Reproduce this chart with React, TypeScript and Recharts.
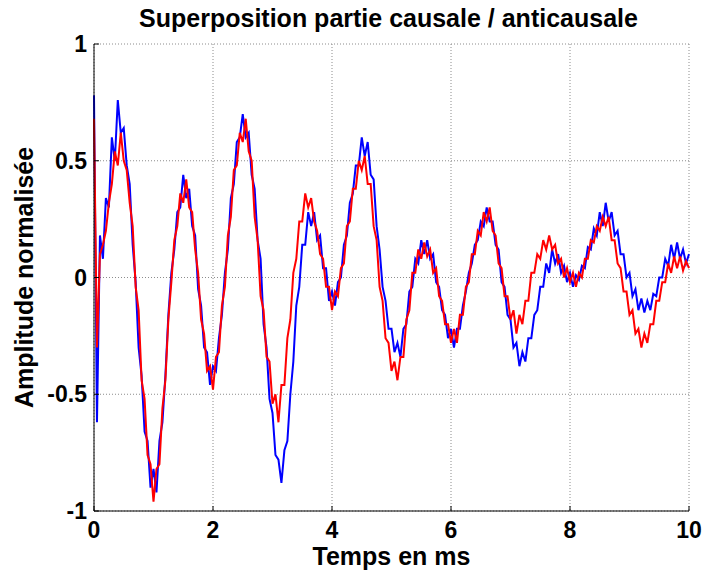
import React from "react";
import { LineChart, Line, XAxis, YAxis, CartesianGrid, Label } from "recharts";

// sampling step of both signals, in ms
const STEP = 0.05;

const xTicks = [0, 2, 4, 6, 8, 10];
const yTicks = [-1, -0.5, 0, 0.5, 1];

// causal part (blue), one row per ms
const causale = [
  0.78, -0.62, 0.18, 0.08, 0.34, 0.3, 0.6, 0.5, 0.76, 0.62, 0.64, 0.48, 0.4, 0.14, -0.02, -0.3, -0.42, -0.66, -0.7, -0.9,
  -0.82, -0.92, -0.7, -0.62, -0.42, -0.16, 0.02, 0.12, 0.28, 0.3, 0.44, 0.34, 0.38, 0.22, 0.18, -0.05, -0.12, -0.3, -0.32, -0.46,
  -0.38, -0.4, -0.26, -0.16, 0.02, 0.12, 0.34, 0.4, 0.58, 0.6, 0.7, 0.6, 0.62, 0.44, 0.38, 0.16, 0.08, -0.2, -0.3, -0.52,
  -0.58, -0.76, -0.78, -0.88, -0.74, -0.7, -0.5, -0.36, -0.12, -0.04, 0.14, 0.14, 0.28, 0.22, 0.28, 0.16, 0.18, 0.04, 0.04, -0.1,
  -0.06, -0.12, -0.02, 0.0, 0.14, 0.18, 0.32, 0.36, 0.48, 0.48, 0.6, 0.52, 0.58, 0.44, 0.42, 0.22, 0.12, -0.04, -0.1, -0.22,
  -0.22, -0.32, -0.28, -0.34, -0.22, -0.2, -0.06, -0.04, 0.08, 0.06, 0.16, 0.1, 0.16, 0.08, 0.1, -0.02, -0.04, -0.14, -0.16, -0.26,
  -0.22, -0.3, -0.22, -0.22, -0.12, -0.06, 0.02, 0.06, 0.14, 0.16, 0.24, 0.22, 0.3, 0.24, 0.24, 0.14, 0.12, -0.02, -0.04, -0.16,
  -0.18, -0.3, -0.28, -0.38, -0.32, -0.36, -0.26, -0.26, -0.16, -0.14, -0.04, -0.04, 0.06, 0.02, 0.12, 0.06, 0.1, 0.02, 0.05, -0.02,
  0.02, -0.04, 0.01, -0.01, 0.05, 0.04, 0.13, 0.12, 0.21, 0.18, 0.28, 0.22, 0.32, 0.24, 0.28, 0.18, 0.2, 0.1, 0.1, 0.0,
  0.02, -0.08, -0.05, -0.14, -0.09, -0.15, -0.1, -0.14, -0.07, -0.08, 0.0, 0.0, 0.08, 0.05, 0.14, 0.08, 0.15, 0.08, 0.12, 0.06,
  0.1,
];

// anticausal part (red)
const anticausale = [
  0.68, -0.3, 0.1, 0.14, 0.2, 0.32, 0.4, 0.54, 0.48, 0.62, 0.5, 0.46, 0.32, 0.22, -0.04, -0.14, -0.44, -0.52, -0.76, -0.8,
  -0.96, -0.82, -0.8, -0.56, -0.44, -0.18, -0.02, 0.16, 0.22, 0.36, 0.32, 0.42, 0.3, 0.28, 0.12, 0.02, -0.18, -0.24, -0.4, -0.38,
  -0.48, -0.34, -0.32, -0.12, -0.04, 0.18, 0.26, 0.46, 0.48, 0.62, 0.58, 0.68, 0.54, 0.5, 0.26, 0.16, -0.08, -0.14, -0.34, -0.36,
  -0.54, -0.5, -0.62, -0.46, -0.46, -0.26, -0.18, 0.02, 0.08, 0.24, 0.24, 0.36, 0.3, 0.34, 0.24, 0.2, 0.1, 0.08, -0.04, -0.04,
  -0.14, -0.06, -0.08, 0.04, 0.06, 0.22, 0.24, 0.38, 0.38, 0.5, 0.46, 0.52, 0.4, 0.4, 0.22, 0.16, -0.04, -0.1, -0.26, -0.28,
  -0.4, -0.36, -0.44, -0.34, -0.34, -0.18, -0.14, 0.02, 0.02, 0.12, 0.08, 0.15, 0.09, 0.12, 0.02, 0.04, -0.08, -0.1, -0.2, -0.2,
  -0.28, -0.22, -0.28, -0.16, -0.16, -0.04, -0.02, 0.1, 0.1, 0.2, 0.18, 0.28, 0.24, 0.3, 0.2, 0.18, 0.06, 0.04, -0.08, -0.08,
  -0.18, -0.14, -0.24, -0.16, -0.2, -0.1, -0.1, 0.02, 0.02, 0.1, 0.08, 0.16, 0.12, 0.18, 0.12, 0.14, 0.06, 0.08, 0.0, 0.04,
  -0.02, 0.02, -0.04, 0.02, 0.0, 0.08, 0.08, 0.16, 0.15, 0.22, 0.2, 0.26, 0.22, 0.26, 0.16, 0.16, 0.06, 0.04, -0.06, -0.06,
  -0.16, -0.14, -0.24, -0.22, -0.3, -0.24, -0.28, -0.2, -0.2, -0.1, -0.1, -0.02, -0.02, 0.06, 0.02, 0.09, 0.04, 0.09, 0.03, 0.07,
  0.04,
];

const data = causale.map((v, i) => ({
  t: +(i * STEP).toFixed(2),
  causale: v,
  anticausale: anticausale[i],
}));

const font = "'Liberation Sans', Arial, Helvetica, sans-serif";
const tickStyle = { fill: "#000", fontSize: 23, fontWeight: 700, fontFamily: font };
const labelStyle = { fill: "#000", fontSize: 25, fontWeight: 700, fontFamily: font };
const noLabel = () => "";

export default function App() {
  return (
    <div style={{ position: "absolute", left: 0, top: 0, width: 706, height: 577, background: "#fff" }}>
      <div
        style={{
          position: "absolute",
          left: 122,
          width: 533,
          top: 6,
          textAlign: "center",
          fontFamily: font,
          fontWeight: 700,
          fontSize: 25,
          lineHeight: "25px",
          whiteSpace: "nowrap",
          color: "#000",
        }}
      >
        Superposition partie causale / anticausale
      </div>
      <LineChart
        width={706}
        height={577}
        data={data}
        margin={{ top: 44, right: 17, bottom: 11, left: 14 }}
      >
        <CartesianGrid xAxisId="bottom" yAxisId="left" stroke="#8c8c8c" strokeDasharray="1 2" />
        <XAxis
          xAxisId="bottom"
          dataKey="t"
          type="number"
          domain={[0, 10]}
          ticks={xTicks}
          height={55}
          stroke="#000"
          tickSize={-5}
          tickMargin={16}
          tick={tickStyle}
          interval={0}
        >
          <Label value="Temps en ms" position="insideBottom" offset={1} style={labelStyle} />
        </XAxis>
        <XAxis
          xAxisId="top"
          orientation="top"
          dataKey="t"
          type="number"
          domain={[0, 10]}
          ticks={xTicks}
          height={0}
          stroke="#000"
          tickSize={-5}
          tickFormatter={noLabel}
          interval={0}
        />
        <YAxis
          yAxisId="left"
          type="number"
          domain={[-1, 1]}
          ticks={yTicks}
          width={80}
          stroke="#000"
          tickSize={-5}
          tickMargin={12}
          tick={tickStyle}
          interval={0}
        >
          <Label
            value="Amplitude normalisée"
            angle={-90}
            position="insideLeft"
            offset={10}
            style={{ ...labelStyle, textAnchor: "middle" }}
          />
        </YAxis>
        <YAxis
          yAxisId="right"
          orientation="right"
          type="number"
          domain={[-1, 1]}
          ticks={yTicks}
          width={0}
          stroke="#000"
          tickSize={-5}
          tickFormatter={noLabel}
          interval={0}
        />
        <Line
          xAxisId="bottom"
          yAxisId="left"
          dataKey="causale"
          type="linear"
          stroke="#0000ff"
          strokeWidth={2}
          dot={false}
          isAnimationActive={false}
        />
        <Line
          xAxisId="bottom"
          yAxisId="left"
          dataKey="anticausale"
          type="linear"
          stroke="#ff0000"
          strokeWidth={2}
          dot={false}
          isAnimationActive={false}
        />
      </LineChart>
    </div>
  );
}
